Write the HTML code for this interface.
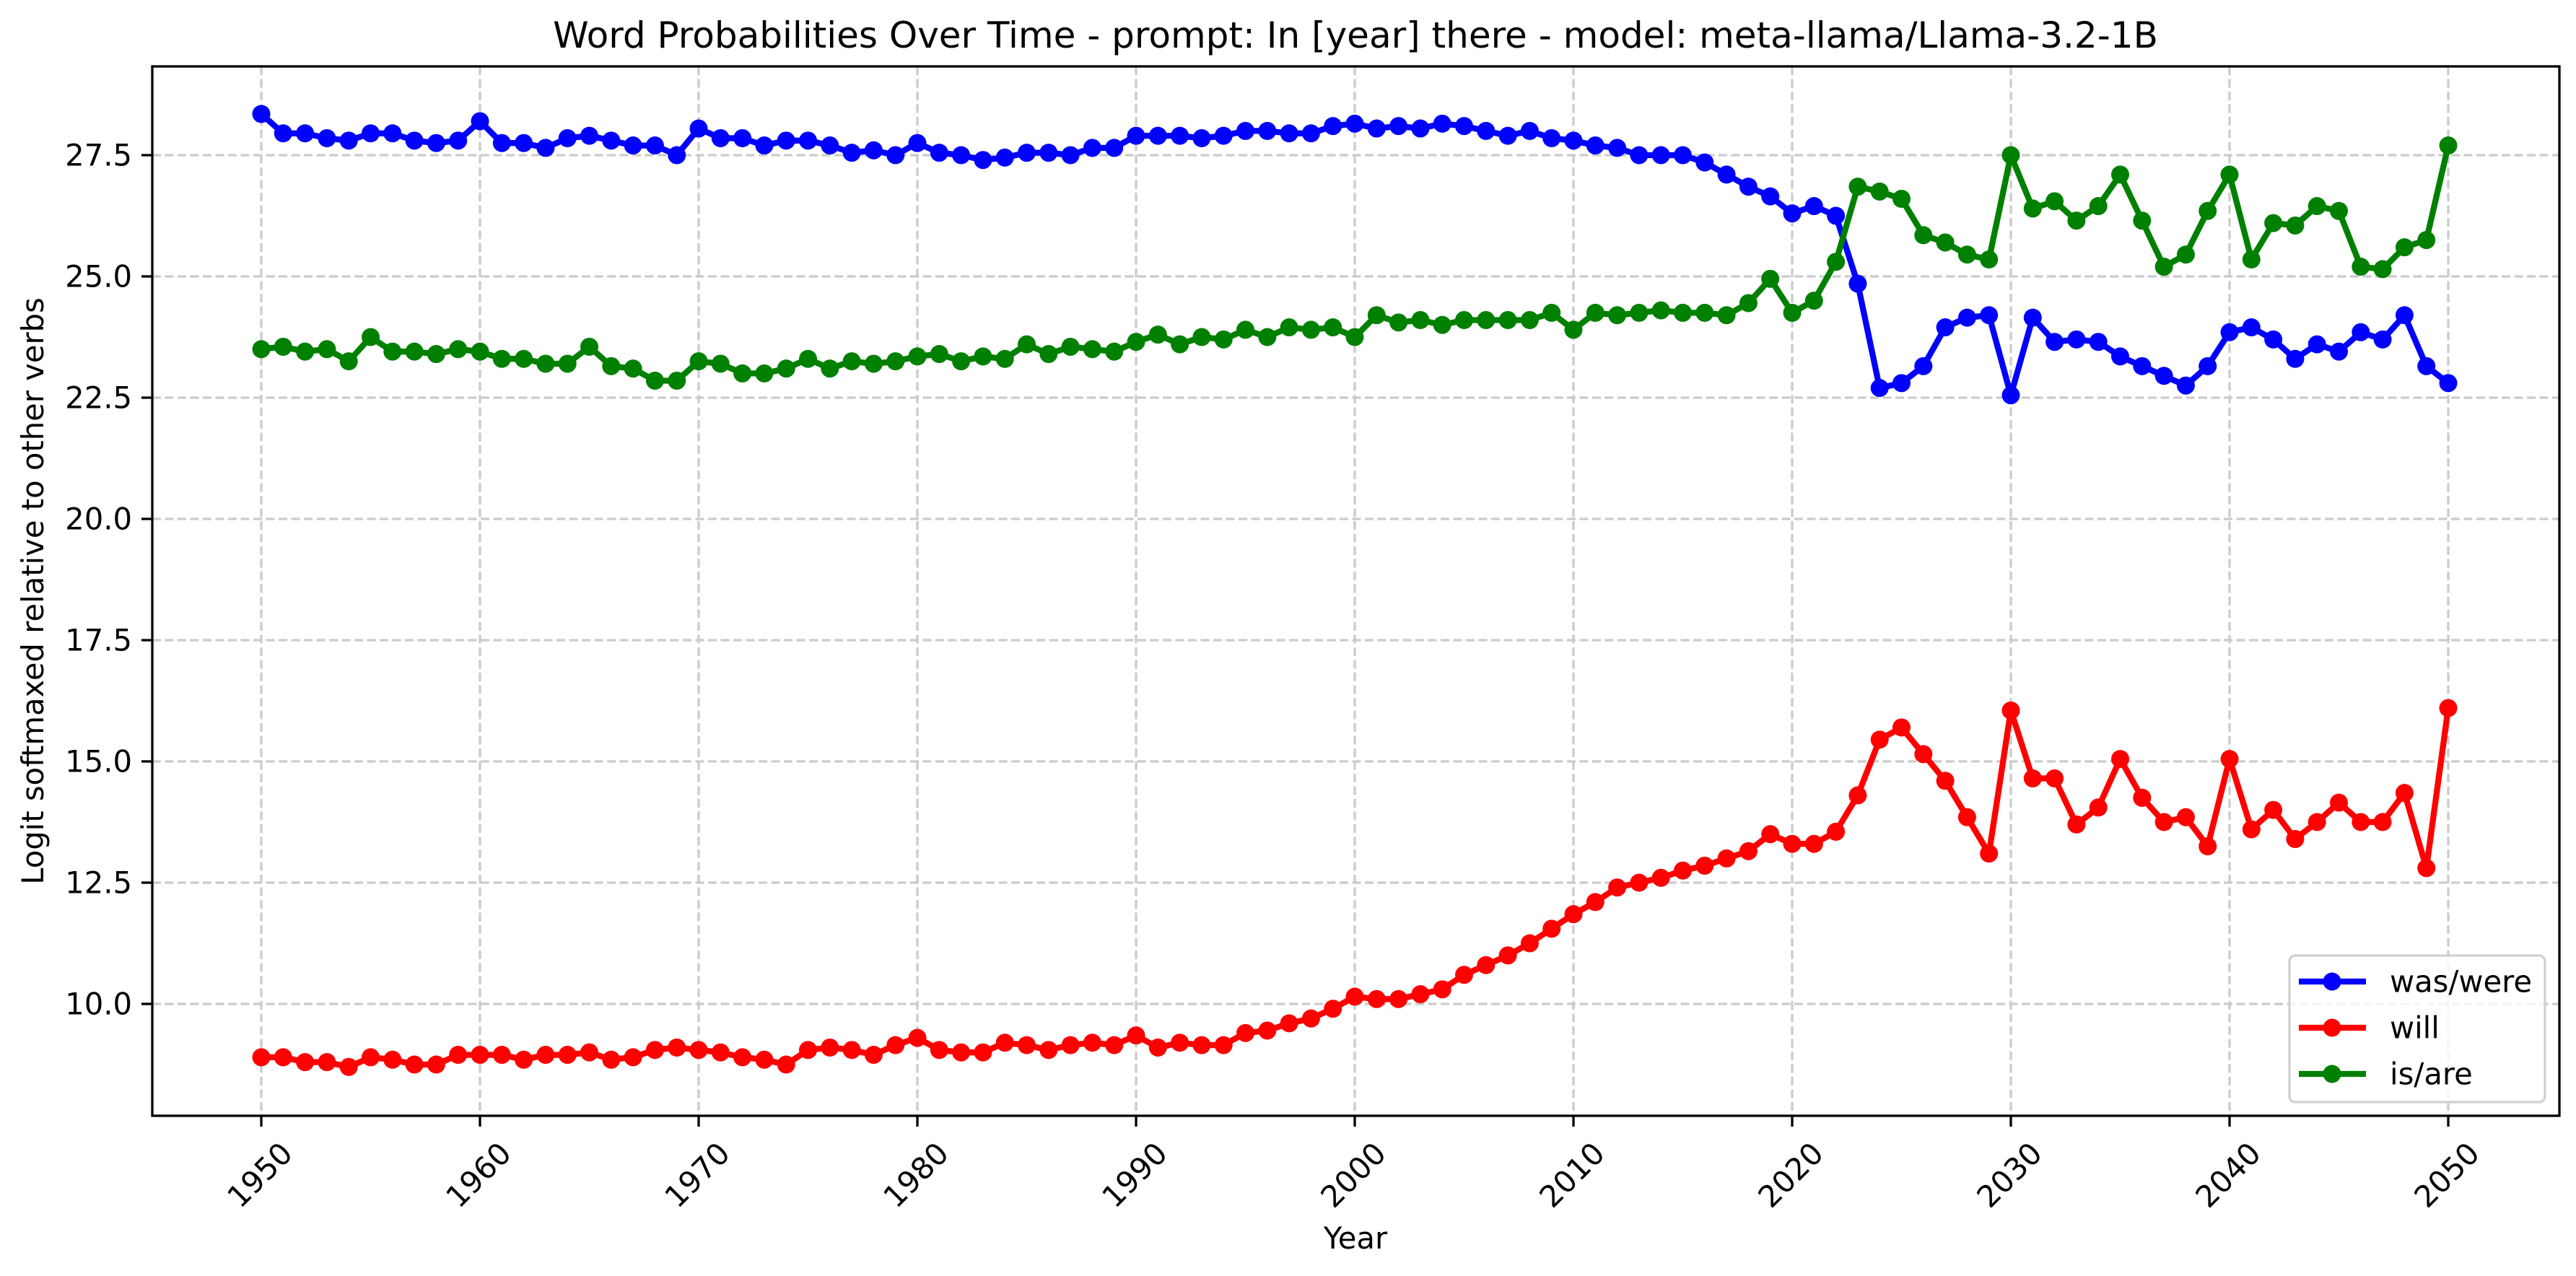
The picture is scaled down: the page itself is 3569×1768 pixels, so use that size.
<!DOCTYPE html>
<html><head><meta charset="utf-8"><style>
html,body{margin:0;padding:0;background:#fff;}
svg{display:block;font-family:"DejaVu Sans","Liberation Sans",sans-serif;}
</style></head><body>
<svg id="chart" width="3569" height="1768" viewBox="0 0 3569 1768" xmlns="http://www.w3.org/2000/svg">
<rect width="3569" height="1768" fill="#fff"/>
<g id="grid"></g>
<g id="series"></g>
<rect x="211" y="92" width="3335" height="1454" fill="none" stroke="#000" stroke-width="3.3"/>
<g id="axes"></g>
<text x="1878" y="66" font-size="50" text-anchor="middle">Word Probabilities Over Time - prompt: In [year] there - model: meta-llama/Llama-3.2-1B</text>
<text x="1878" y="1730" font-size="41.7" text-anchor="middle">Year</text>
<text transform="translate(60,819) rotate(-90)" font-size="41.7" text-anchor="middle">Logit softmaxed relative to other verbs</text>
<g id="legend">
<rect x="3172" y="1324" width="354" height="203" rx="8" fill="#fff" fill-opacity="0.8" stroke="#d0d0d0" stroke-width="3.3"/>
</g>
</svg>
<script>
const years = [];
for (let y = 1950; y <= 2050; y++) years.push(y);
const wasWere = [28.35,27.95,27.95,27.85,27.8,27.95,27.95,27.8,27.75,27.8,
28.2,27.75,27.75,27.65,27.85,27.9,27.8,27.7,27.7,27.5,
28.05,27.85,27.85,27.7,27.8,27.8,27.7,27.55,27.6,27.5,
27.75,27.55,27.5,27.4,27.45,27.55,27.55,27.5,27.65,27.65,
27.9,27.9,27.9,27.85,27.9,28.0,28.0,27.95,27.95,28.1,
28.15,28.05,28.1,28.05,28.15,28.1,28.0,27.9,28.0,27.85,
27.8,27.7,27.65,27.5,27.5,27.5,27.35,27.1,26.85,26.65,
26.3,26.45,26.25,24.85,22.7,22.8,23.15,23.95,24.15,24.2,
22.55,24.15,23.65,23.7,23.65,23.35,23.15,22.95,22.75,23.15,
23.85,23.95,23.7,23.3,23.6,23.45,23.85,23.7,24.2,23.15,22.8];
const will = [8.9,8.9,8.8,8.8,8.7,8.9,8.85,8.75,8.75,8.95,
8.95,8.95,8.85,8.95,8.95,9.0,8.85,8.9,9.05,9.1,
9.05,9.0,8.9,8.85,8.75,9.05,9.1,9.05,8.95,9.15,
9.3,9.05,9.0,9.0,9.2,9.15,9.05,9.15,9.2,9.15,
9.35,9.1,9.2,9.15,9.15,9.4,9.45,9.6,9.7,9.9,
10.15,10.1,10.1,10.2,10.3,10.6,10.8,11.0,11.25,11.55,
11.85,12.1,12.4,12.5,12.6,12.75,12.85,13.0,13.15,13.5,
13.3,13.3,13.55,14.3,15.45,15.7,15.15,14.6,13.85,13.1,
16.05,14.65,14.65,13.7,14.05,15.05,14.25,13.75,13.85,13.25,
15.05,13.6,14.0,13.4,13.75,14.15,13.75,13.75,14.35,12.8,16.1];
const isAre = [23.5,23.55,23.45,23.5,23.25,23.75,23.45,23.45,23.4,23.5,
23.45,23.3,23.3,23.2,23.2,23.55,23.15,23.1,22.85,22.85,
23.25,23.2,23.0,23.0,23.1,23.3,23.1,23.25,23.2,23.25,
23.35,23.4,23.25,23.35,23.3,23.6,23.4,23.55,23.5,23.45,
23.65,23.8,23.6,23.75,23.7,23.9,23.75,23.95,23.9,23.95,
23.75,24.2,24.05,24.1,24.0,24.1,24.1,24.1,24.1,24.25,
23.9,24.25,24.2,24.25,24.3,24.25,24.25,24.2,24.45,24.95,
24.25,24.5,25.3,26.85,26.75,26.6,25.85,25.7,25.45,25.35,
27.5,26.4,26.55,26.15,26.45,27.1,26.15,25.2,25.45,26.35,
27.1,25.35,26.1,26.05,26.45,26.35,25.2,25.15,25.6,25.75,27.7];
const xTicks = [1950,1960,1970,1980,1990,2000,2010,2020,2030,2040,2050];
const yTicks = [10.0,12.5,15.0,17.5,20.0,22.5,25.0,27.5];
const seriesNames = ["was/were","will","is/are"];
const seriesColors = ["#0000ff","#ff0000","#008000"];

const NS = "http://www.w3.org/2000/svg";
const L = 211, R = 3546, T = 92, B = 1546;
function xs(yr){ return 362 + (yr - 1950) * (3392 - 362) / 100; }
function ys(v){ return 215 + (27.5 - v) * 67.2; }
function mk(tag, attrs, parent){
  const e = document.createElementNS(NS, tag);
  for (const k in attrs) e.setAttribute(k, attrs[k]);
  parent.appendChild(e); return e;
}
const grid = document.getElementById('grid');
const axes = document.getElementById('axes');
xTicks.forEach(t => {
  const x = xs(t);
  const g = mk('line', {x1:x, x2:x, y1:T, y2:B, stroke:'#cbcbcb', 'stroke-width':3.3, 'stroke-dasharray':'12 5.5'}, grid);
  
  
  const tk = mk('line', {x1:x, x2:x, y1:B, y2:B+15, stroke:'#000', 'stroke-width':3.3}, axes);
  
  
  const lb = mk('text', {x:0, y:0, 'font-size':41.7, 'text-anchor':'middle', 'dominant-baseline':'central',
    transform:'translate(' + (x - 2) + ',1628) rotate(-45)'}, axes);
  lb.textContent = t;
  
  
});
yTicks.forEach(t => {
  const y = ys(t);
  const g = mk('line', {x1:L, x2:R, y1:y, y2:y, stroke:'#cbcbcb', 'stroke-width':3.3, 'stroke-dasharray':'12 5.5'}, grid);
  
  
  const tk = mk('line', {x1:L-15, x2:L, y1:y, y2:y, stroke:'#000', 'stroke-width':3.3}, axes);
  
  
  const lb = mk('text', {x:L-28, y:y, 'font-size':41.7, 'text-anchor':'end', 'dominant-baseline':'central'}, axes);
  lb.textContent = t.toFixed(1);
  
  
});
const seriesG = document.getElementById('series');
[wasWere, will, isAre].forEach((vals, i) => {
  const g = mk('g', {}, seriesG);
  
  
  const pts = vals.map((v, j) => xs(years[j]).toFixed(1) + ',' + ys(v).toFixed(1)).join(' ');
  const pl = mk('polyline', {points:pts, fill:'none', stroke:seriesColors[i], 'stroke-width':8.3, 'stroke-linejoin':'round'}, g);
  
  
  vals.forEach((v, j) => {
    const c = mk('circle', {cx:xs(years[j]), cy:ys(v), r:12.5, fill:seriesColors[i]}, g);
    
    
  });
});
const legend = document.getElementById('legend');
const ly = [1360, 1424, 1488];
seriesNames.forEach((n, i) => {
  const g = mk('g', {}, legend);
  
  
  mk('line', {x1:3185, x2:3278, y1:ly[i], y2:ly[i], stroke:seriesColors[i], 'stroke-width':8.3}, g);
  mk('circle', {cx:3231, cy:ly[i], r:12.5, fill:seriesColors[i]}, g);
  const t = mk('text', {x:3311, y:ly[i], 'font-size':41.7, 'dominant-baseline':'central'}, g);
  t.textContent = n;
});
</script>
</body></html>
